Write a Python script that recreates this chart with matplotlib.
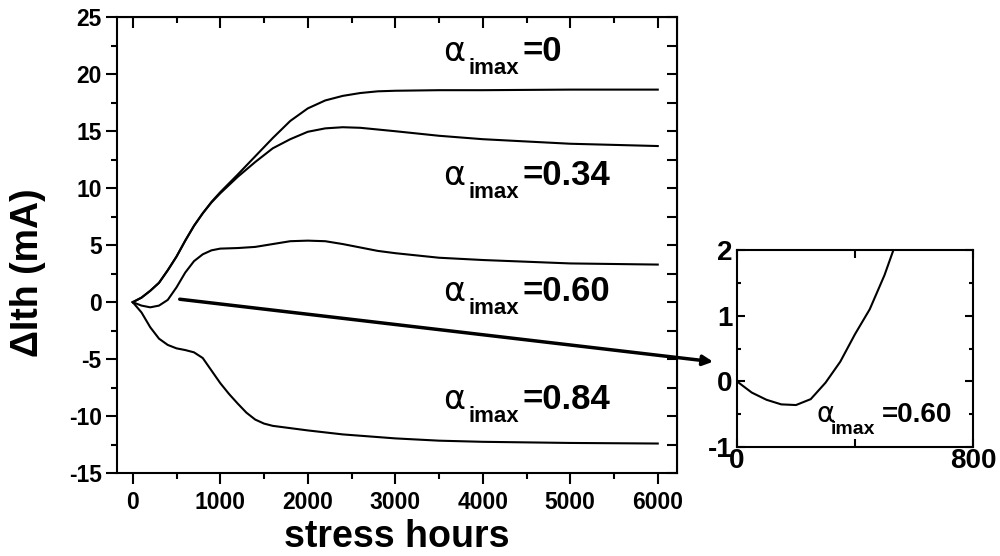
import matplotlib
matplotlib.use('Agg')
import matplotlib.pyplot as plt
from matplotlib.ticker import MultipleLocator

plt.rcParams['font.family'] = ['Liberation Sans', 'DejaVu Sans']
plt.rcParams['font.weight'] = 'bold'
plt.rcParams['axes.labelweight'] = 'bold'
plt.rcParams['axes.unicode_minus'] = False

# threshold current shift vs stress time
hours_a0 = [0, 100, 200, 300, 400, 500, 600, 700, 800, 900, 1000, 1200, 1400, 1600,
            1800, 2000, 2200, 2400, 2600, 2800, 3000, 3500, 4000, 5000, 6000]
dith_a0 = [0, 0.4, 1.0, 1.7, 2.8, 4.0, 5.4, 6.7, 7.8, 8.8, 9.65, 11.2, 12.8, 14.4,
           15.9, 17.0, 17.7, 18.1, 18.35, 18.5, 18.55, 18.6, 18.6, 18.65, 18.65]

hours_a34 = [0, 100, 200, 300, 400, 500, 600, 700, 800, 900, 1000, 1200, 1400, 1600,
             1800, 2000, 2200, 2400, 2600, 2800, 3000, 3500, 4000, 4500, 5000, 5500, 6000]
dith_a34 = [0, 0.4, 1.0, 1.7, 2.8, 4.0, 5.4, 6.7, 7.8, 8.75, 9.55, 11.0, 12.3, 13.5,
            14.3, 14.95, 15.25, 15.35, 15.3, 15.15, 15.0, 14.6, 14.3, 14.1, 13.9, 13.8, 13.7]

hours_a60 = [0, 100, 200, 300, 400, 500, 600, 700, 800, 900, 1000, 1200, 1400, 1600,
             1800, 2000, 2200, 2400, 2600, 2800, 3000, 3500, 4000, 4500, 5000, 5500, 6000]
dith_a60 = [0, -0.3, -0.45, -0.3, 0.2, 1.3, 2.6, 3.6, 4.2, 4.55, 4.7, 4.75, 4.85, 5.1,
            5.35, 5.4, 5.35, 5.1, 4.8, 4.5, 4.3, 3.9, 3.7, 3.55, 3.4, 3.35, 3.3]

hours_a84 = [0, 100, 200, 300, 400, 500, 600, 700, 800, 900, 1000, 1100, 1200, 1300,
             1400, 1500, 1600, 1800, 2000, 2400, 3000, 3500, 4000, 5000, 6000]
dith_a84 = [0, -0.9, -2.2, -3.2, -3.75, -4.05, -4.2, -4.4, -4.9, -6.0, -7.1, -8.05, -8.9, -9.7,
            -10.3, -10.65, -10.85, -11.05, -11.25, -11.6, -11.95, -12.15, -12.25, -12.35, -12.4]

# zoom on the first 800 h of the alpha=0.60 curve
hours_zoom = [0, 50, 100, 150, 200, 250, 300, 350, 400, 450, 500, 530]
dith_zoom = [0, -0.17, -0.28, -0.35, -0.36, -0.27, -0.02, 0.3, 0.72, 1.1, 1.62, 2.0]

labels = ['0', '0.34', '0.60', '0.84']
label_y = [21.2, 10.3, 0.1, -9.4]


def alpha_label(axis, x, y, value, big, small, offs, asize):
    axis.annotate('α', (x, y), fontsize=asize, fontweight='normal', family='DejaVu Sans')
    axis.annotate('imax', (x, y), xytext=(offs[0], -offs[1]), textcoords='offset pixels',
                  fontsize=small)
    axis.annotate('=' + value, (x, y), xytext=(offs[2], 0), textcoords='offset pixels',
                  fontsize=big)


fig = plt.figure(figsize=(10, 5.56), dpi=100)
ax = fig.add_axes([0.117, 0.149, 0.56, 0.820])

for hx, dy in [(hours_a0, dith_a0), (hours_a34, dith_a34), (hours_a60, dith_a60), (hours_a84, dith_a84)]:
    ax.plot(hx, dy, color='black', lw=1.5)

ax.set_xlim(-180, 6220)
ax.set_ylim(-15, 25)
ax.xaxis.set_major_locator(MultipleLocator(1000))
ax.xaxis.set_minor_locator(MultipleLocator(500))
ax.yaxis.set_major_locator(MultipleLocator(5))
ax.yaxis.set_minor_locator(MultipleLocator(2.5))
ax.tick_params(which='major', length=8, width=1.5, labelsize=16.5, direction='out')
ax.tick_params(which='minor', length=4, width=1.5, direction='out')
ax.tick_params(axis='y', pad=3)
ax.tick_params(axis='x', pad=5)
for s in ax.spines.values():
    s.set_linewidth(1.5)

# inward ticks on top and right
top = ax.secondary_xaxis('top')
top.xaxis.set_major_locator(MultipleLocator(1000))
top.xaxis.set_minor_locator(MultipleLocator(500))
top.tick_params(which='major', direction='in', length=8, width=1.5, labeltop=False)
top.tick_params(which='minor', direction='in', length=4, width=1.5)
right = ax.secondary_yaxis('right')
right.yaxis.set_major_locator(MultipleLocator(5))
right.yaxis.set_minor_locator(MultipleLocator(2.5))
right.tick_params(which='both', direction='in', length=7, width=1.5, labelright=False)

ax.set_xlabel('stress hours', fontsize=27, fontweight='bold')
ax.xaxis.set_label_coords(0.5, -0.1)
ax.set_ylabel('ΔIth (mA)', fontsize=27, fontweight='bold')
ax.yaxis.set_label_coords(-0.127, 0.439)

for val, yy in zip(labels, label_y):
    alpha_label(ax, 3543, yy, val, 25, 16, (26, 13, 80), 24)

# inset
axins = fig.add_axes([0.737, 0.196, 0.236, 0.354])
axins.plot(hours_zoom, dith_zoom, color='black', lw=1.5)
axins.set_xlim(0, 800)
axins.set_ylim(-1, 2)
axins.set_xticks([0, 400, 800])
axins.set_xticklabels(['0', '', '800'])
axins.set_yticks([-1, 0, 1, 2])
axins.yaxis.set_minor_locator(MultipleLocator(0.5))
axins.tick_params(which='both', direction='in', top=True, right=True, width=1.5, labelsize=20)
axins.tick_params(which='major', length=6)
axins.tick_params(which='minor', length=3)
axins.tick_params(axis='x', pad=1)
axins.tick_params(axis='y', pad=3)
for s in axins.spines.values():
    s.set_linewidth(1.5)
alpha_label(axins, 271, -0.625, '0.60', 20, 14, (14, 12, 65), 20)

ax.annotate('', xy=(-81, 0.3), xycoords=axins.transData, xytext=(537, 0.26), textcoords='data',
            arrowprops=dict(arrowstyle='-|>', lw=2.5, color='black', mutation_scale=15,
                            shrinkA=0, shrinkB=0),
            annotation_clip=False)

fig.savefig('out.png', dpi=100)
